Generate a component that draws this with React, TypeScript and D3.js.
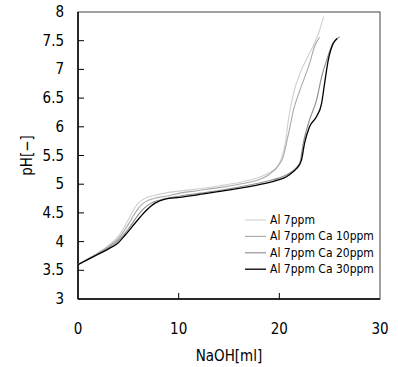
import { useEffect, useRef } from 'react';
import * as d3 from 'd3';

type Pt = [number, number];

const seriesNames = ['Al 7ppm', 'Al 7ppm Ca 10ppm', 'Al 7ppm Ca 20ppm', 'Al 7ppm Ca 30ppm'];
const seriesColors = ['#cfcfcf', '#a9a9a9', '#8c8c8c', '#000000'];

const al7: Pt[] = [
  [0, 3.6], [1, 3.7], [2, 3.8], [3, 3.93], [4, 4.09], [5, 4.38], [5.5, 4.55], [6, 4.67],
  [6.5, 4.74], [7.5, 4.8], [8.5, 4.84], [10, 4.88], [12, 4.92], [14, 4.97], [16, 5.03],
  [18, 5.12], [19, 5.2], [19.8, 5.3], [20.2, 5.45], [20.6, 5.72], [20.9, 6.12], [21.4, 6.58],
  [22.05, 6.93], [23, 7.28], [23.9, 7.63], [24.4, 7.92],
];
const ca10: Pt[] = [
  [0, 3.6], [1, 3.7], [2, 3.8], [3, 3.91], [4, 4.05], [5, 4.3], [5.5, 4.45], [6, 4.58],
  [6.5, 4.67], [7, 4.72], [8, 4.77], [9, 4.8], [10, 4.84], [12, 4.89], [14, 4.94], [16, 5.0],
  [18, 5.08], [19, 5.17], [20, 5.35], [20.4, 5.48], [20.7, 5.71], [21, 5.95], [21.4, 6.29],
  [22.05, 6.64], [23, 7.1], [23.5, 7.4], [24, 7.56],
];
const ca20: Pt[] = [
  [0, 3.6], [1, 3.69], [2, 3.79], [3, 3.89], [4, 4.02], [5, 4.22], [6, 4.47], [6.5, 4.57],
  [7, 4.64], [7.5, 4.69], [8.5, 4.74], [10, 4.79], [12, 4.84], [14, 4.89], [16, 4.95],
  [18, 5.02], [19, 5.06], [20, 5.11], [21, 5.19], [21.7, 5.29], [22.05, 5.38], [22.37, 5.71],
  [23, 6.12], [23.7, 6.47], [24.2, 6.87], [24.7, 7.16], [25.3, 7.45], [26, 7.57],
];
const ca30: Pt[] = [
  [0, 3.6], [1, 3.69], [2, 3.78], [3, 3.87], [4, 3.98], [4.67, 4.11], [5.66, 4.32],
  [6.65, 4.52], [7.65, 4.67], [8.64, 4.74], [10.1, 4.77], [12, 4.82], [15.1, 4.9],
  [18.2, 5.0], [20, 5.08], [20.7, 5.13], [21.4, 5.22], [21.7, 5.27], [22.2, 5.42],
  [22.5, 5.71], [23, 6.0], [23.7, 6.18], [24.2, 6.41], [24.5, 6.76], [24.86, 7.16],
  [25.35, 7.45], [25.75, 7.54],
];
const allSeries = [al7, ca10, ca20, ca30];

const xTicks = [0, 10, 20, 30];
const yTicks = [3, 3.5, 4, 4.5, 5, 5.5, 6, 6.5, 7, 7.5, 8];

const FONT = "'Liberation Sans Narrow', 'DejaVu Sans Condensed', sans-serif";

export default function App() {
  const ref = useRef<SVGSVGElement>(null);

  useEffect(() => {
    if (!ref.current) return;
    const svg = d3.select(ref.current);
    svg.selectAll('*').remove();

    const left = 78, right = 380, top = 12, bottom = 299;
    const x = d3.scaleLinear().domain([0, 30]).range([left, right]);
    const y = d3.scaleLinear().domain([3, 8]).range([bottom, top]);

    svg.append('rect').attr('width', 398).attr('height', 367).attr('fill', '#fff');

    // frame
    svg.append('rect')
      .attr('x', left).attr('y', top)
      .attr('width', right - left).attr('height', bottom - top)
      .attr('fill', 'none').attr('stroke', '#444').attr('stroke-width', 1);

    // y ticks (inward)
    svg.append('g').selectAll('line')
      .data(yTicks.slice(1, -1))
      .join('line')
      .attr('x1', left).attr('x2', left + 6)
      .attr('y1', (d) => y(d)).attr('y2', (d) => y(d))
      .attr('stroke', '#000');
    svg.append('g').selectAll('text')
      .data(yTicks)
      .join('text')
      .attr('x', 64).attr('y', (d) => y(d) + 5)
      .attr('text-anchor', 'end')
      .attr('font-family', FONT).attr('font-size', 15)
      .text((d) => String(d));

    // x ticks (inward)
    svg.append('g').selectAll('line')
      .data(xTicks.slice(1, -1))
      .join('line')
      .attr('x1', (d) => x(d)).attr('x2', (d) => x(d))
      .attr('y1', bottom).attr('y2', bottom - 6)
      .attr('stroke', '#000');
    svg.append('g').selectAll('text')
      .data(xTicks)
      .join('text')
      .attr('x', (d) => x(d)).attr('y', 334)
      .attr('text-anchor', 'middle')
      .attr('font-family', FONT).attr('font-size', 15)
      .text((d) => String(d));

    // axis lines
    svg.append('line').attr('x1', left).attr('x2', left).attr('y1', top).attr('y2', bottom)
      .attr('stroke', '#000').attr('stroke-width', 1.5);
    svg.append('line').attr('x1', left).attr('x2', right).attr('y1', bottom).attr('y2', bottom)
      .attr('stroke', '#000').attr('stroke-width', 1.5);

    // titles
    svg.append('text')
      .attr('x', (left + right) / 2).attr('y', 361)
      .attr('text-anchor', 'middle')
      .attr('font-family', FONT).attr('font-size', 15)
      .text('NaOH[ml]');
    svg.append('text')
      .attr('transform', `translate(32,${(top + bottom) / 2}) rotate(-90)`)
      .attr('text-anchor', 'middle')
      .attr('font-family', FONT).attr('font-size', 15)
      .text('pH[−]');

    const line = d3.line<Pt>()
      .x((d) => x(d[0]))
      .y((d) => y(d[1]))
      .curve(d3.curveMonotoneX);

    allSeries.forEach((s, i) => {
      svg.append('path')
        .datum(s)
        .attr('d', line)
        .attr('fill', 'none')
        .attr('stroke', seriesColors[i])
        .attr('stroke-width', i === 3 ? 1.3 : 1.1);
    });

    // legend
    const lg = svg.append('g');
    seriesNames.forEach((name, i) => {
      const ly = 220 + i * 16.4;
      lg.append('line')
        .attr('x1', 245).attr('x2', 266).attr('y1', ly).attr('y2', ly)
        .attr('stroke', seriesColors[i]).attr('stroke-width', i === 3 ? 1.3 : 1.1);
      lg.append('text')
        .attr('x', 270).attr('y', ly + 4)
        .attr('font-family', FONT).attr('font-size', 12)
        .text(name);
    });
  }, []);

  return (
    <svg
      ref={ref}
      width={398}
      height={367}
      style={{ position: 'absolute', left: 0, top: 0 }}
    />
  );
}
